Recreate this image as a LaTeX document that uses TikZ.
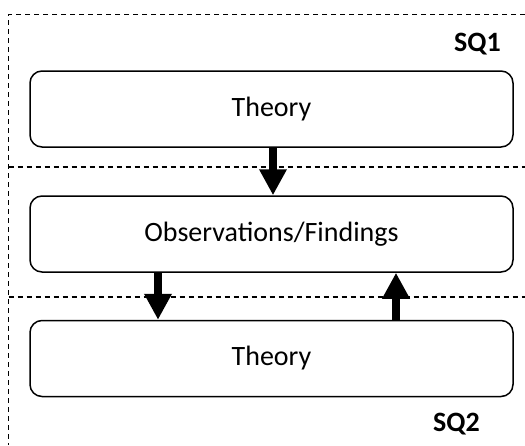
\documentclass[tikz,border=0pt]{standalone}
\usepackage{fontspec}
\setmainfont{Carlito}
\usetikzlibrary{arrows.meta}
\begin{document}
\begin{tikzpicture}[x=1pt,y=-1pt,
  stage/.style={draw=black, line width=1.5pt, rounded corners=12pt,
    minimum width=483pt, minimum height=76pt, inner sep=0pt,
    font=\fontsize{28}{33}\selectfont},
  sqlabel/.style={anchor=base, inner sep=0pt, font=\fontsize{28}{33}\selectfont\bfseries},
  divider/.style={line width=1.2pt, dash pattern=on 5pt off 4pt},
  flow/.style={line width=8pt, -{Triangle[width=26pt,length=26pt]}}]
  \useasboundingbox (0,0) rectangle (525,445);

  % outer dashed frame (top and left sides)
  \coordinate (frameTR) at (525,14.5);
  \coordinate (frameTL) at (8.5,14.5);
  \coordinate (frameBL) at (8.5,445);
  \draw[divider] (frameTR) -- (frameTL) -- (frameBL);

  % section dividers
  \coordinate (divAL) at (8.5,167);
  \coordinate (divAR) at (525,167);
  \coordinate (divBL) at (8.5,297);
  \coordinate (divBR) at (525,297);
  \draw[divider] (divAL) -- (divAR);
  \draw[divider] (divBL) -- (divBR);

  % stages
  \node[stage] (theory1) at (271.5,109) {Theory};
  \node[stage] (obs) at (271.5,234) {Observations/Findings};
  \node[stage] (theory2) at (271.5,358.5) {Theory};

  % sub-question labels
  \node[sqlabel] (sq1) at (477.5,51) {SQ1};
  \node[sqlabel] (sq2) at (456.5,431) {SQ2};

  % arrows between stages
  \draw[flow] (theory1.south -| 273,0) -- (obs.north -| 273,0);
  \draw[flow] (obs.south -| 158,0) -- (theory2.north -| 158,0);
  \draw[flow] (theory2.north -| 396,0) -- (obs.south -| 396,0);
\end{tikzpicture}
\end{document}
